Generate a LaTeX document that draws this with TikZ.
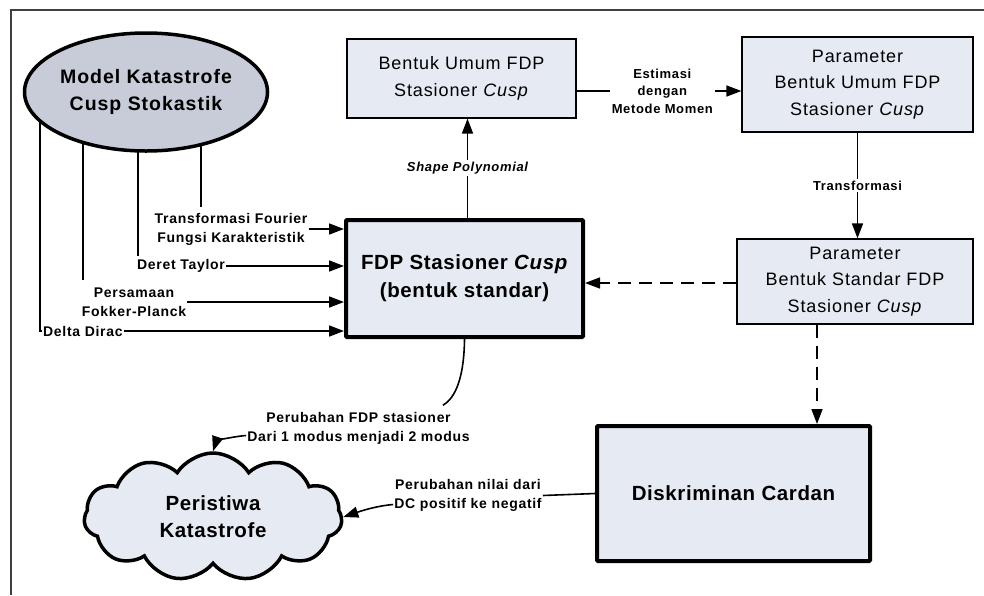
\documentclass[tikz,border=0pt]{standalone}
\usepackage{fontspec}
\setmainfont{Liberation Sans}
\usetikzlibrary{shapes.geometric,shapes.symbols,arrows.meta,backgrounds,calc}
\definecolor{boxfill}{HTML}{E6EAF3}
\definecolor{ellfill}{HTML}{C8CCD8}
\definecolor{framecol}{HTML}{404040}
\newcommand{\wide}[1]{\addfontfeature{LetterSpace=#1}}
\tikzset{
  plainbox/.style={draw=black,line width=1.2pt,fill=boxfill,align=center,font=\fontsize{18}{26.5}\selectfont\wide{5},inner sep=0pt},
  thickbox/.style={draw=black,line width=4pt,fill=boxfill,align=center,font=\bfseries\fontsize{20.5}{28}\selectfont\wide{3},inner sep=0pt,rounded corners=1pt},
  lbl/.style={align=center,font=\bfseries\fontsize{14}{19}\selectfont\wide{5},inner sep=1pt},
  slbl/.style={align=center,font=\bfseries\fontsize{13}{17.5}\selectfont\wide{5},inner sep=2pt,fill=white},
  conn/.style={line width=1.6pt,-{Triangle[length=15pt,width=11pt]}},
  plainline/.style={line width=1.6pt},
  dashconn/.style={conn,dash pattern=on 13pt off 8pt}
}
\begin{document}
\begin{tikzpicture}[x=1pt,y=-1pt]
\useasboundingbox (0,0) rectangle (984,595);
\begin{scope}[on background layer]
\fill[white] (0,0) rectangle (984,595);
\end{scope}
% frame
\draw[framecol,line width=1.3pt] (11,595) -- (11,10) -- (984,10);

% main nodes
\node[ellipse,draw=black,line width=3.5pt,fill=ellfill,minimum width=243pt,minimum height=118pt,align=center,font=\bfseries\fontsize{19.5}{27}\selectfont\wide{5},inner sep=0pt] (ell) at (146,92) {Model Katastrofe\\Cusp Stokastik};

\node[thickbox,minimum width=237pt,minimum height=117pt] (main) at (464.5,278.5) {FDP Stasioner \textit{Cusp}\\(bentuk standar)};

\node[plainbox,minimum width=229pt,minimum height=79pt] (bu) at (461.5,78.5) {Bentuk Umum FDP\\Stasioner \textit{Cusp}};

\node[plainbox,minimum width=231pt,minimum height=95pt] (pu) at (857.5,84.5) {Parameter\\Bentuk Umum FDP\\Stasioner \textit{Cusp}};

\node[plainbox,minimum width=236pt,minimum height=85pt] (ps) at (855,281.5) {Parameter\\Bentuk Standar FDP\\Stasioner \textit{Cusp}};

\node[thickbox,minimum width=273pt,minimum height=135pt] (dc) at (733.5,493.5) {Diskriminan Cardan};

\node[cloud,cloud puffs=11,cloud puff arc=115,aspect=2,draw=black,line width=3.5pt,fill=boxfill,minimum width=258pt,minimum height=128pt,align=center,font=\bfseries\fontsize{20.5}{27}\selectfont\wide{3},inner sep=0pt] (cl) at (213,517) {Peristiwa\\Katastrofe};

% labels on the left
\node[lbl] (tf) at (231,229) {Transformasi Fourier\\Fungsi Karakteristik};
\node[lbl,anchor=west] (dt) at (136,266) {Deret Taylor};
\node[lbl] (fp) at (134,302) {Persamaan\\Fokker-Planck};
\node[lbl,anchor=west] (dd) at (42,331) {Delta Dirac};

% connectors from ellipse
\begin{scope}[on background layer]
\draw[plainline] (dd.west) -| ($(ell.center)+(-106,0)$);
\draw[plainline] ($(ell.center)+(-63,0)$) -- ($(ell.center)+(-63,188)$);
\draw[plainline] ($(ell.center)+(-8,0)$) -- ($(ell.center)+(-8,164)$);
\draw[plainline] ($(ell.center)+(55,0)$) -- ($(ell.center)+(55,115)$);
\end{scope}

\draw[conn] (tf.east) -- (tf.east -| main.west);
\draw[conn] (dt.east) -- (dt.east -| main.west);
\draw[conn] (fp.east) -- (fp.east -| main.west);
\draw[conn] (dd.east) -- (dd.east -| main.west);

% main -> bentuk umum
\coordinate (mt) at ($(main.north)+(3,0)$);
\draw[conn] (mt) -- (mt |- bu.south) node[pos=0.5,slbl,font=\bfseries\itshape\fontsize{13}{16}\selectfont\wide{5}] (sp) {Shape Polynomial};

% bentuk umum -> parameter umum
\coordinate (bue) at (bu.east |- 0,91);
\draw[conn] (bue) -- (bue -| pu.west) node[pos=0.52,slbl] (est) {Estimasi\\dengan\\Metode Momen};

% parameter umum -> parameter standar
\coordinate (pub) at (pu.south);
\draw[conn] (pub) -- (pub |- ps.north) node[pos=0.5,slbl] (tr) {Transformasi};

% parameter standar -> main (dashed)
\coordinate (psw) at (ps.west |- 0,283);
\draw[dashconn] (psw) -- (psw -| main.east);

% parameter standar -> diskriminan (dashed)
\coordinate (psb) at (817,0);
\draw[dashconn] (psb |- ps.south) -- (psb |- dc.north);

% main -> cloud
\node[lbl] (pf) at (358.5,428.5) {Perubahan FDP stasioner\\Dari 1 modus menjadi 2 modus};
\draw[plainline] (main.south) .. controls (464,385) and (452,400) .. ($(pf.north east)+(-28,-6)$);
\draw[conn] ($(pf.west)+(0,7)$) .. controls (228,437) and (216,442) .. (cl.north);

% diskriminan -> cloud
\node[lbl] (pn) at (468,495.5) {Perubahan nilai dari\\DC positif ke negatif};
\draw[plainline] (dc.west) -- (pn.east);
\draw[conn] ($(pn.west)+(0,9)$) .. controls (375,506) and (358,512) .. (cl.east);
\end{tikzpicture}
\end{document}
